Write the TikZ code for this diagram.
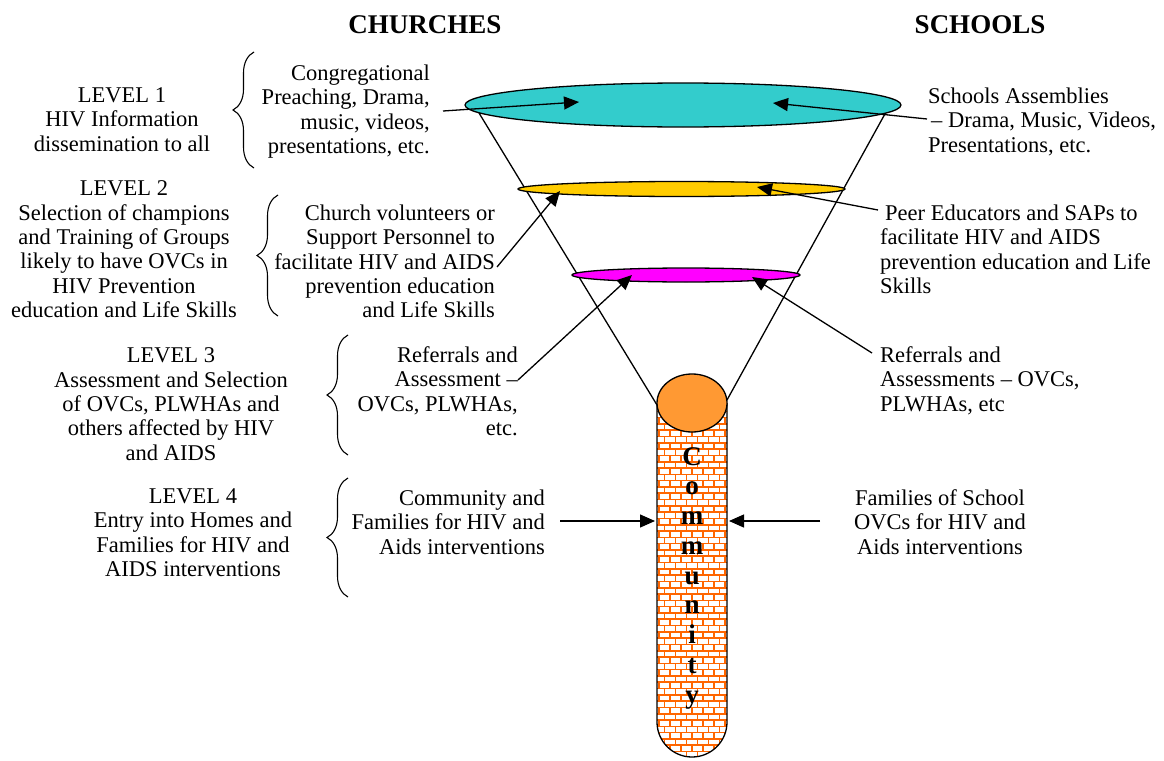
\documentclass[tikz,border=0pt]{standalone}
\usepackage{fontspec}
\setmainfont{Liberation Serif}
\usetikzlibrary{arrows.meta,decorations.pathreplacing,shapes.geometric}
\definecolor{cyanF}{HTML}{33CCCC}
\definecolor{yellowF}{HTML}{FFCC00}
\definecolor{magentaF}{HTML}{FF00FF}
\definecolor{ballF}{HTML}{FF9933}
\definecolor{brickL}{HTML}{FF6600}
\begin{document}
\begin{tikzpicture}[x=1pt,y=-1pt,
  txt/.style={font=\fontsize{22.5}{24.4}\selectfont, inner sep=0pt},
  head/.style={font=\bfseries\fontsize{27}{30}\selectfont, inner sep=0pt},
  letter/.style={font=\bfseries\fontsize{27}{27}\selectfont, inner sep=0pt, anchor=base},
  arr/.style={line width=1.3pt, -{Triangle[length=15pt,width=13pt]}},
  fun/.style={line width=1.3pt},
  ring/.style={ellipse, draw, line width=1.3pt, inner sep=0pt},
  brc/.style={line width=1.1pt, decorate, decoration={brace, amplitude=21pt, aspect=0.5}}]
\useasboundingbox (0,0) rectangle (1164,760);

% headings
\node[head, anchor=base] (church) at (425,34) {CHURCHES};
\node[head, anchor=base] (school) at (980,34) {SCHOOLS};

% funnel sides
\coordinate (fl1) at (479,113);
\coordinate (fl2) at (657,405);
\coordinate (fr1) at (886,112);
\coordinate (fr2) at (727,400);
\draw[fun] (fl1) -- (fl2);
\draw[fun] (fr1) -- (fr2);

% tube with bricks
\begin{scope}
\clip (657,403) -- (657,722) arc[start angle=180, end angle=0, radius=35] -- (727,403) -- cycle;
\fill[white] (650,400) rectangle (735,760);
\foreach \r in {0,...,57}{
  \pgfmathsetmacro{\yy}{405+\r*6.3}
  \pgfmathsetmacro{\yz}{\yy+6.3}
  \pgfmathsetmacro{\off}{mod(\r,2)*5.5}
  \draw[brickL, line width=1.6pt] (650,\yy) -- (735,\yy);
  \foreach \c in {0,...,8}{
    \pgfmathsetmacro{\xx}{648+\c*11+\off}
    \draw[brickL, line width=1.6pt] (\xx,\yy) -- (\xx,\yz);
  }
}
\end{scope}
\draw[line width=1.3pt] (657,403) -- (657,722) arc[start angle=180, end angle=0, radius=35] -- (727,403);

% ball
\node[ring, fill=ballF, minimum width=70pt, minimum height=58pt] (ball) at (692,403) {};

% community letters
\foreach \l [count=\i from 0] in {C,o,m,m,u,n,i,t,y}{
  \node[letter] (cm\i) at (692, 465+\i*29.75) {\l};
}

% levels ellipses
\node[ring, fill=cyanF, minimum width=436pt, minimum height=44pt] (lev1) at (683,105) {};
\node[ring, fill=yellowF, minimum width=327pt, minimum height=15pt] (lev2) at (681.5,189) {};
\node[ring, fill=magentaF, minimum width=228pt, minimum height=14pt] (lev3) at (686,275) {};

% left labels
\node[txt, align=center, anchor=north] (L1) at (122,87.5) {LEVEL 1\\HIV Information\\dissemination to all};
\node[txt, align=center, anchor=north] (L2) at (124,180.5) {LEVEL 2\\Selection of champions\\and Training of Groups\\likely to have OVCs in\\HIV Prevention\\education and Life Skills};
\node[txt, align=center, anchor=north] (L3) at (171,347.5) {LEVEL 3\\Assessment and Selection\\of OVCs, PLWHAs and\\others affected by HIV\\and AIDS};
\node[txt, align=center, anchor=north] (L4) at (193,488.5) {LEVEL 4\\Entry into Homes and\\Families for HIV and\\AIDS interventions};

% braces
\coordinate (b1a) at (254,168); \coordinate (b1b) at (254,52);
\coordinate (b2a) at (278,316); \coordinate (b2b) at (278,195);
\coordinate (b3a) at (348,455); \coordinate (b3b) at (348,335);
\coordinate (b4a) at (348,597); \coordinate (b4b) at (348,478);
\draw[brc] (b1a) -- (b1b);
\draw[brc] (b2a) -- (b2b);
\draw[brc] (b3a) -- (b3b);
\draw[brc] (b4a) -- (b4b);

% church texts
\node[txt, align=right, anchor=north east] (C1) at (430,64.5) {Congregational\\Preaching, Drama,\\music, videos,\\presentations, etc.};
\node[txt, align=right, anchor=north east] (C2) at (495,204.5) {Church volunteers or\\Support Personnel to\\facilitate HIV and AIDS\\prevention education\\and Life Skills};
\node[txt, align=right, anchor=north east] (C3) at (518,346.5) {Referrals and\\Assessment –\\OVCs, PLWHAs,\\etc.};
\node[txt, align=right, anchor=north east] (C4) at (545,489.5) {Community and\\Families for HIV and\\Aids interventions};

% school texts
\node[txt, align=left, anchor=north west] (S1) at (928,87.5) {Schools Assemblies\\\hspace*{3pt}– Drama, Music, Videos,\\Presentations, etc.};
\node[txt, align=left, anchor=north west] (S2) at (880,204.5) {\hspace*{5pt}Peer Educators and SAPs to\\facilitate HIV and AIDS\\prevention education and Life\\Skills};
\node[txt, align=left, anchor=north west] (S3) at (880,346.5) {Referrals and\\Assessments – OVCs,\\PLWHAs, etc};
\node[txt, align=center, anchor=north] (S4) at (940,489.5) {Families of School\\OVCs for HIV and\\Aids interventions};

% arrows
\coordinate (a1s) at (443,111); \coordinate (a1e) at (579,102);
\coordinate (a2s) at (927,119); \coordinate (a2e) at (773,103);
\coordinate (a3s) at (497,267); \coordinate (a3e) at (560,191);
\coordinate (a4s) at (878,210); \coordinate (a4e) at (757,187);
\coordinate (a5s) at (518,380); \coordinate (a5e) at (632,275);
\coordinate (a6s) at (872,353); \coordinate (a6e) at (752,277);
\coordinate (a7s) at (560,521); \coordinate (a7e) at (655,521);
\coordinate (a8s) at (820,521); \coordinate (a8e) at (729,521);
\draw[arr] (a1s) -- (a1e);
\draw[arr] (a2s) -- (a2e);
\draw[arr] (a3s) -- (a3e);
\draw[arr] (a4s) -- (a4e);
\draw[arr] (a5s) -- (a5e);
\draw[arr] (a6s) -- (a6e);
\draw[arr] (a7s) -- (a7e);
\draw[arr] (a8s) -- (a8e);
\end{tikzpicture}
\end{document}
